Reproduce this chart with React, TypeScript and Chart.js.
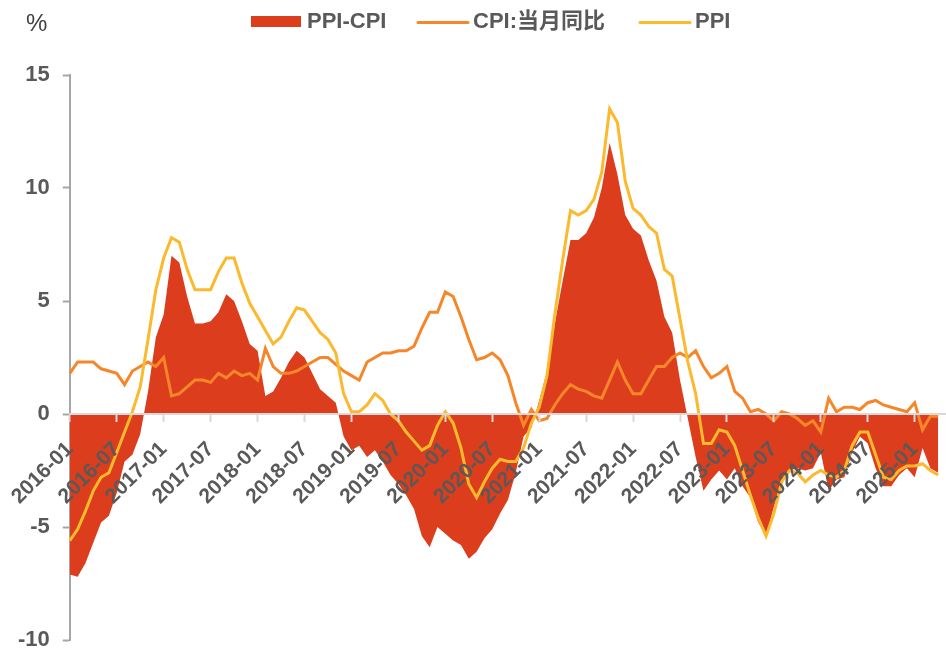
import React, { useEffect, useRef } from 'react';
import { Chart, registerables } from 'chart.js';

Chart.register(...registerables);

// Monthly categories 2016-01 .. 2025-05
const MONTHS: string[] = [];
for (let y = 2016; y <= 2025; y++) {
  for (let m = 1; m <= 12; m++) {
    if (y === 2025 && m > 5) break;
    MONTHS.push(`${y}-${m < 10 ? '0' + m : m}`);
  }
}

const TICK_LABELS: string[] = [
  '2016-01', '2016-07', '2017-01', '2017-07', '2018-01', '2018-07', '2019-01', '2019-07',
  '2020-01', '2020-07', '2021-01', '2021-07', '2022-01', '2022-07', '2023-01', '2023-07',
  '2024-01', '2024-07', '2025-01',
];

const Y_TICKS: number[] = [-10, -5, 0, 5, 10, 15];

// PPI - CPI spread (%)
const PPI_CPI: number[] = [
  -7.1, -7.2, -6.6, -5.7, -4.8, -4.5, -3.5, -2.1, -1.8, -0.9, 1.0, 3.4,
  4.4, 7.0, 6.7, 5.2, 4.0, 4.0, 4.1, 4.5, 5.3, 5.0, 4.1, 3.1,
  2.8, 0.8, 1.0, 1.6, 2.3, 2.8, 2.5, 1.8, 1.1, 0.8, 0.5, -1.0,
  -1.6, -1.4, -1.9, -1.6, -2.1, -2.7, -3.1, -3.6, -4.2, -5.4, -5.9, -5.0,
  -5.3, -5.6, -5.8, -6.4, -6.1, -5.5, -5.1, -4.4, -3.8, -2.6, -1.0, -0.6,
  0.6, 1.9, 4.0, 5.9, 7.7, 7.7, 8.0, 8.7, 10.0, 12.0, 10.6, 8.8,
  8.2, 7.9, 6.8, 5.9, 4.3, 3.6, 1.5, -0.2, -1.9, -3.4, -2.9, -2.5,
  -2.9, -2.4, -3.2, -3.7, -4.8, -5.4, -4.1, -3.1, -2.5, -2.4, -2.5, -2.4,
  -1.7, -3.4, -2.9, -2.8, -1.7, -1.0, -1.3, -2.4, -3.2, -3.2, -2.7, -2.4,
  -2.8, -1.5, -2.4, -2.6,
];

// CPI: year-on-year (%)
const CPI: number[] = [
  1.8, 2.3, 2.3, 2.3, 2.0, 1.9, 1.8, 1.3, 1.9, 2.1, 2.3, 2.1,
  2.5, 0.8, 0.9, 1.2, 1.5, 1.5, 1.4, 1.8, 1.6, 1.9, 1.7, 1.8,
  1.5, 2.9, 2.1, 1.8, 1.8, 1.9, 2.1, 2.3, 2.5, 2.5, 2.2, 1.9,
  1.7, 1.5, 2.3, 2.5, 2.7, 2.7, 2.8, 2.8, 3.0, 3.8, 4.5, 4.5,
  5.4, 5.2, 4.3, 3.3, 2.4, 2.5, 2.7, 2.4, 1.7, 0.5, -0.5, 0.2,
  -0.3, -0.2, 0.4, 0.9, 1.3, 1.1, 1.0, 0.8, 0.7, 1.5, 2.3, 1.5,
  0.9, 0.9, 1.5, 2.1, 2.1, 2.5, 2.7, 2.5, 2.8, 2.1, 1.6, 1.8,
  2.1, 1.0, 0.7, 0.1, 0.2, 0.0, -0.3, 0.1, 0.0, -0.2, -0.5, -0.3,
  -0.8, 0.7, 0.1, 0.3, 0.3, 0.2, 0.5, 0.6, 0.4, 0.3, 0.2, 0.1,
  0.5, -0.7, -0.1, -0.1,
];

// PPI: year-on-year (%)
const PPI: number[] = [
  -5.6, -5.1, -4.3, -3.4, -2.8, -2.6, -1.7, -0.8, 0.1, 1.2, 3.3, 5.5,
  6.9, 7.8, 7.6, 6.4, 5.5, 5.5, 5.5, 6.3, 6.9, 6.9, 5.8, 4.9,
  4.3, 3.7, 3.1, 3.4, 4.1, 4.7, 4.6, 4.1, 3.6, 3.3, 2.7, 0.9,
  0.1, 0.1, 0.4, 0.9, 0.6, 0.0, -0.3, -0.8, -1.2, -1.6, -1.4, -0.5,
  0.1, -0.4, -1.5, -3.1, -3.7, -3.0, -2.4, -2.0, -2.1, -2.1, -1.5, -0.4,
  0.3, 1.7, 4.4, 6.8, 9.0, 8.8, 9.0, 9.5, 10.7, 13.5, 12.9, 10.3,
  9.1, 8.8, 8.3, 8.0, 6.4, 6.1, 4.2, 2.3, 0.9, -1.3, -1.3, -0.7,
  -0.8, -1.4, -2.5, -3.6, -4.6, -5.4, -4.4, -3.0, -2.5, -2.6, -3.0, -2.7,
  -2.5, -2.7, -2.8, -2.5, -1.4, -0.8, -0.8, -1.8, -2.8, -2.9, -2.5, -2.3,
  -2.3, -2.2, -2.5, -2.7,
];

const RED = '#DC3D1C';
const ORANGE = '#F5862A';
const YELLOW = '#FBB92E';
const TEXT = '#595959';
const FONT = "'Liberation Sans', Arial, 'Noto Sans CJK SC', sans-serif";

// legend item start positions (layout only)
const LEGEND_X = [251, 417, 639];

const legendPlugin = {
  id: 'customLegend',
  afterDraw(chart: any) {
    const ctx = chart.ctx as CanvasRenderingContext2D;
    ctx.save();
    ctx.font = `bold 22px ${FONT}`;
    ctx.textBaseline = 'alphabetic';
    ctx.textAlign = 'left';
    chart.data.datasets.forEach((ds: any, i: number) => {
      const x = LEGEND_X[i];
      if (i === 0) {
        ctx.fillStyle = ds.backgroundColor;
        ctx.fillRect(x, 16, 50, 11);
      } else {
        ctx.strokeStyle = ds.borderColor;
        ctx.lineWidth = 3;
        ctx.lineCap = 'round';
        ctx.beginPath();
        ctx.moveTo(x + 1, 22.5);
        ctx.lineTo(x + 51, 22.5);
        ctx.stroke();
      }
      ctx.fillStyle = TEXT;
      ctx.fillText(ds.label, x + 56, 28);
    });
    ctx.font = `24px ${FONT}`;
    ctx.fillStyle = '#404040';
    ctx.fillText('%', 26, 31);
    ctx.restore();
  },
};

export default function App() {
  const canvasRef = useRef<HTMLCanvasElement | null>(null);

  useEffect(() => {
    if (!canvasRef.current) return;
    const chart = new Chart(canvasRef.current, {
      type: 'line',
      data: {
        labels: MONTHS,
        datasets: [
          {
            label: 'PPI-CPI',
            data: PPI_CPI,
            fill: 'origin',
            backgroundColor: RED,
            borderColor: RED,
            borderWidth: 0,
            pointRadius: 0,
            tension: 0,
            order: 3,
          },
          {
            label: 'CPI:当月同比',
            data: CPI,
            fill: false,
            borderColor: ORANGE,
            backgroundColor: ORANGE,
            borderWidth: 3,
            pointRadius: 0,
            tension: 0,
            order: 2,
          },
          {
            label: 'PPI',
            data: PPI,
            fill: false,
            borderColor: YELLOW,
            backgroundColor: YELLOW,
            borderWidth: 3,
            pointRadius: 0,
            tension: 0,
            order: 1,
          },
        ] as any,
      },
      options: {
        animation: false,
        responsive: false,
        layout: { padding: { top: 75, left: 5, right: 0, bottom: 11 } },
        plugins: {
          legend: { display: false },
          tooltip: { enabled: false },
        },
        scales: {
          x: {
            type: 'category',
            position: { y: 0 } as any,
            offset: false,
            afterFit: (s: any) => {
              s.paddingLeft = 0;
              s.paddingRight = 0;
            },
            grid: {
              drawOnChartArea: false,
              drawTicks: true,
              tickLength: 7,
              color: '#d9d9d9',
              tickColor: '#d9d9d9',
              tickWidth: 2,
              z: 1,
            },
            border: { display: true, color: '#d9d9d9', width: 2, z: 1 },
            ticks: {
              autoSkip: false,
              maxRotation: 45,
              minRotation: 45,
              padding: 16,
              color: TEXT,
              font: { family: FONT, size: 21, weight: 'bold' },
              z: 1,
              callback: (_v: any, i: number) =>
                TICK_LABELS.includes(MONTHS[i]) ? MONTHS[i] : null,
            },
          },
          y: {
            min: Y_TICKS[0],
            max: Y_TICKS[Y_TICKS.length - 1],
            afterFit: (s: any) => {
              s.paddingTop = 0;
              s.paddingBottom = 0;
            },
            ticks: {
              stepSize: 5,
              padding: 13,
              color: TEXT,
              font: { family: FONT, size: 22, weight: 'bold' },
            },
            grid: {
              drawOnChartArea: false,
              drawTicks: true,
              tickLength: 7,
              tickColor: '#a6a6a6',
              tickWidth: 2,
            },
            border: { display: true, color: '#a6a6a6', width: 2 },
          },
        },
      } as any,
      plugins: [legendPlugin],
    });
    return () => chart.destroy();
  }, []);

  return (
    <div style={{ position: 'absolute', left: 0, top: 0, width: 946, height: 651, background: '#fff' }}>
      <canvas ref={canvasRef} width={946} height={651} style={{ display: 'block' }} />
    </div>
  );
}
